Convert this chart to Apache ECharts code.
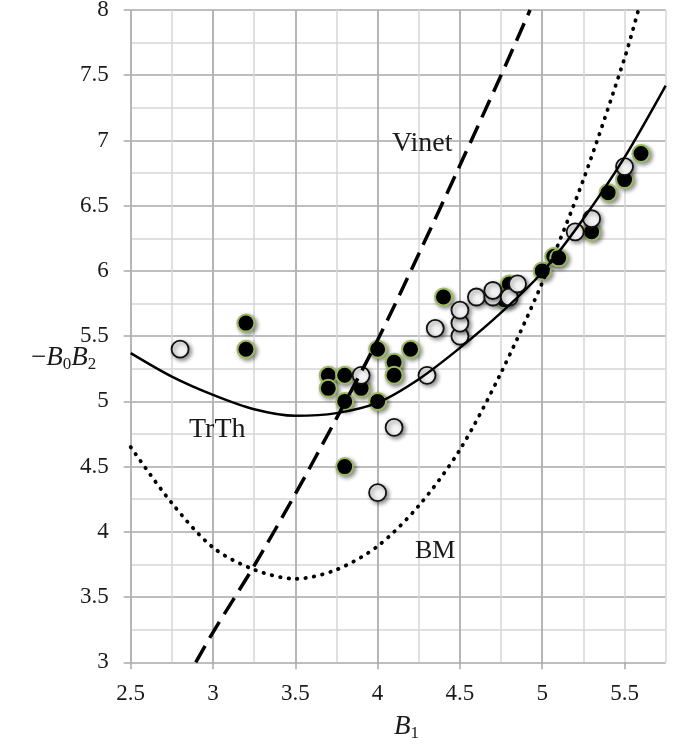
<!DOCTYPE html>
<html><head><meta charset="utf-8">
<script src="https://cdn.jsdelivr.net/npm/echarts@6/dist/echarts.min.js"></script>
<style>html,body{margin:0;padding:0;background:#fff}#c{width:689px;height:750px}</style>
</head><body><div id="c"></div>
<script>
// ---- data ----
const xTicks = [2.5, 3, 3.5, 4, 4.5, 5, 5.5];
const yTicks = [3, 3.5, 4, 4.5, 5, 5.5, 6, 6.5, 7, 7.5, 8];

const filledX = [3.2, 3.2, 3.7, 3.7, 3.8, 3.8, 3.8, 3.9, 4.0, 4.0, 4.1, 4.1, 4.2, 4.4, 4.77, 4.8, 5.0, 5.07, 5.1, 5.3, 5.4, 5.5, 5.6];
const filledY = [5.6, 5.4, 5.2, 5.1, 5.2, 5.0, 4.5, 5.1, 5.4, 5.0, 5.3, 5.2, 5.4, 5.8, 5.78, 5.9, 6.0, 6.11, 6.1, 6.3, 6.6, 6.7, 6.9];

const openX = [2.8, 3.9, 4.0, 4.1, 4.3, 4.35, 4.5, 4.5, 4.5, 4.6, 4.7, 4.7, 4.8, 4.85, 5.2, 5.3, 5.5];
const openY = [5.4, 5.2, 4.3, 4.8, 5.2, 5.56, 5.5, 5.6, 5.7, 5.8, 5.8, 5.85, 5.8, 5.9, 6.3, 6.4, 6.8];

const trthX = [2.5, 2.75, 3, 3.25, 3.5, 3.75, 4, 4.25, 4.5, 4.75, 5, 5.25, 5.5, 5.75];
const trthY = [5.37, 5.19, 5.05, 4.94, 4.89, 4.91, 4.99, 5.17, 5.41, 5.68, 5.99, 6.40, 6.87, 7.42];

const vinetX = [2.895, 3, 3.25, 3.5, 3.75, 4, 4.25, 4.5, 4.75, 4.926];
const vinetY = [3.0, 3.23, 3.74, 4.29, 4.87, 5.47, 6.13, 6.81, 7.5, 8.0];

const bmX = [2.5, 2.75, 3, 3.25, 3.5, 3.75, 4, 4.25, 4.5, 4.75, 5, 5.25, 5.5, 5.584];
const bmY = [4.65, 4.22, 3.88, 3.71, 3.64, 3.71, 3.89, 4.2, 4.63, 5.22, 5.91, 6.7, 7.63, 8.0];

const curveNames = ['Vinet', 'TrTh', 'BM'];

// ---- chart ----
const pair = (xs, ys) => xs.map((x, i) => [x, ys[i]]);
const majorC = '#a9a9a9', minorC = '#d6d6d6';
const serif = '"Liberation Serif", "Times New Roman", serif';
const textC = '#1a1a1a';

const chart = echarts.init(document.getElementById('c'), null, {renderer: 'canvas'});
const option = {
  animation: false,
  backgroundColor: '#fff',
  grid: {left: 130.7, right: 23.3, top: 10, bottom: 87.7, containLabel: false, outerBoundsMode: 'none'},
  xAxis: [
    {type: 'value', min: 2.5, max: 5.75, interval: 0.25,
      axisLine: {show: false}, axisTick: {show: false}, axisLabel: {show: false},
      splitLine: {show: true, lineStyle: {color: minorC, width: 1.5}}},
    {type: 'value', min: 2.5, max: 5.75, interval: 0.5, position: 'bottom',
      axisLine: {show: false},
      axisTick: {show: true, customValues: xTicks, length: 7, lineStyle: {color: majorC, width: 1.5}},
      axisLabel: {show: true, customValues: xTicks, margin: 20, fontFamily: serif, fontSize: 23, color: textC},
      splitLine: {show: true, showMaxLine: false, lineStyle: {color: majorC, width: 1.5}}}
  ],
  yAxis: [{type: 'value', min: 3, max: 8, interval: 0.5,
    axisLine: {show: false},
    axisTick: {show: true, customValues: yTicks, length: 7, lineStyle: {color: majorC, width: 1.5}},
    axisLabel: {show: true, customValues: yTicks, margin: 22, fontFamily: serif, fontSize: 23, color: textC},
    minorTick: {show: false, splitNumber: 2},
    minorSplitLine: {show: true, lineStyle: {color: minorC, width: 1.5}},
    splitLine: {show: true, lineStyle: {color: majorC, width: 1.5}}}],
  series: [
    {type: 'scatter', name: 'filled', xAxisIndex: 0, data: pair(filledX, filledY), symbol: 'circle', symbolSize: 17, z: 3,
      itemStyle: {color: '#000', borderColor: '#9cbc5c', borderWidth: 2, opacity: 1,
        shadowBlur: 4, shadowColor: 'rgba(0,0,0,0.45)', shadowOffsetX: 2, shadowOffsetY: 2}},
    {type: 'scatter', name: 'open', xAxisIndex: 0, data: pair(openX, openY), symbol: 'circle', symbolSize: 17, z: 4,
      itemStyle: {color: '#f3f3f3', borderColor: '#111', borderWidth: 1.8, opacity: 1,
        shadowBlur: 4, shadowColor: 'rgba(0,0,0,0.45)', shadowOffsetX: 2, shadowOffsetY: 2}},
    {type: 'line', name: curveNames[0], xAxisIndex: 0, data: pair(vinetX, vinetY), showSymbol: false, smooth: 0.3, z: 6, silent: true,
      lineStyle: {color: '#000', width: 3.5, type: [19, 9]}},
    {type: 'line', name: curveNames[1], xAxisIndex: 0, data: pair(trthX, trthY), showSymbol: false, smooth: 0.3, z: 6, silent: true,
      lineStyle: {color: '#000', width: 2.5}},
    {type: 'line', name: curveNames[2], xAxisIndex: 0, data: pair(bmX, bmY), showSymbol: false, smooth: 0.3, z: 6, silent: true,
      lineStyle: {color: '#000', width: 3.8, type: [0.5, 8], cap: 'round'}}
  ],
  graphic: [
    {type: 'text', z: 100, left: 392, top: 130, style: {text: curveNames[0], font: '28px ' + serif, fill: textC}},
    {type: 'text', z: 100, left: 189, top: 416, style: {text: curveNames[1], font: '28px ' + serif, fill: textC}},
    {type: 'text', z: 100, left: 415, top: 538, style: {text: curveNames[2], font: '26px ' + serif, fill: textC}},
    {type: 'text', z: 100, left: 394, top: 713, style: {
      text: '{b|B}{s|1}',
      rich: {
        b: {fontFamily: serif, fontStyle: 'italic', fontSize: 27, lineHeight: 34, verticalAlign: 'middle', fill: textC, color: textC},
        s: {fontFamily: serif, fontSize: 17, lineHeight: 34, verticalAlign: 'bottom', fill: textC, color: textC, padding: [0, 0, 1, 0]}
      }}},
    {type: 'text', z: 100, left: 31, top: 344, style: {
      text: '{m|−}{b|B}{s|0}{b|B}{s|2}',
      rich: {
        m: {fontFamily: serif, fontSize: 27, lineHeight: 34, verticalAlign: 'middle', fill: textC, color: textC},
        b: {fontFamily: serif, fontStyle: 'italic', fontSize: 27, lineHeight: 34, verticalAlign: 'middle', fill: textC, color: textC},
        s: {fontFamily: serif, fontSize: 17, lineHeight: 34, verticalAlign: 'bottom', fill: textC, color: textC, padding: [0, 0, 1, 0]}
      }}}
  ]
};
chart.setOption(option);
</script>
</body></html>
